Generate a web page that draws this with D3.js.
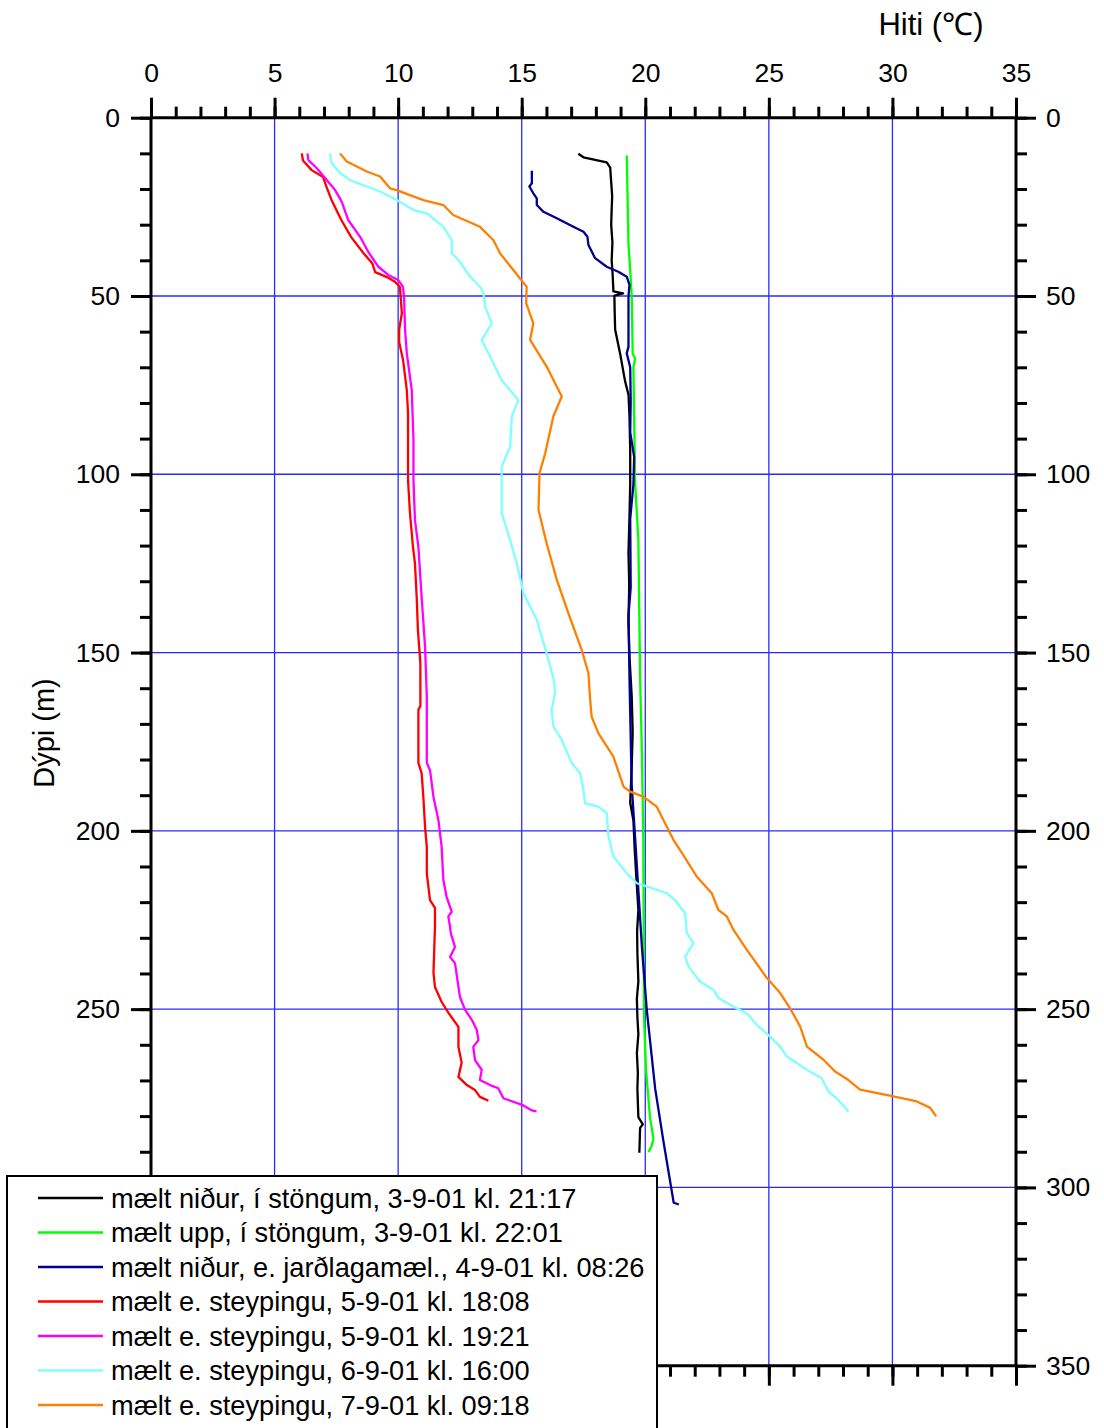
<!DOCTYPE html>
<html>
<head>
<meta charset="utf-8">
<script src="https://cdn.jsdelivr.net/npm/d3@7"></script>
<style>
  html, body { margin: 0; padding: 0; background: #fff; }
  svg { display: block; font-family: "Liberation Sans", Arial, Helvetica, sans-serif; }
</style>
</head>
<body>
<svg id="chart" width="1104" height="1428"></svg>
<script>
// ---- Data: [depth (m), temperature (°C)] ----
const seriesNames = [
  "mælt niður, í stöngum, 3-9-01 kl. 21:17",
  "mælt upp, í stöngum, 3-9-01 kl. 22:01",
  "mælt niður, e. jarðlagamæl., 4-9-01 kl. 08:26",
  "mælt e. steypingu, 5-9-01 kl. 18:08",
  "mælt e. steypingu, 5-9-01 kl. 19:21",
  "mælt e. steypingu, 6-9-01 kl. 16:00",
  "mælt e. steypingu, 7-9-01 kl. 09:18"
];
const seriesColors = ["#000000", "#00ff00", "#000090", "#ff0000", "#ff00ff", "#80ffff", "#ff8000"];

const black = [[10.1,17.29],[11.1,17.5],[12.5,18.44],[14,18.58],[18,18.62],[22,18.66],[25.6,18.64],[30,18.62],[35,18.67],[40,18.64],[44,18.68],[48.7,18.71],[49.3,19.1],[49.9,18.75],[54,18.76],[59.4,18.78],[66.1,18.98],[73.8,19.18],[77.7,19.32],[83.5,19.36],[93.2,19.39],[102.8,19.39],[112,19.36],[122.1,19.32],[131,19.35],[141.4,19.32],[151.1,19.36],[162.1,19.45],[172.1,19.49],[182.1,19.45],[192.1,19.39],[197.1,19.52],[205,19.57],[212.2,19.63],[222.2,19.72],[228,19.67],[234.2,19.68],[242.2,19.72],[247,19.66],[252.2,19.68],[257,19.72],[262.3,19.66],[268,19.7],[272.3,19.68],[280.3,19.72],[282.3,19.9],[283.3,19.79],[290.3,19.76]];
const green = [[10.6,19.25],[35.2,19.32],[49.7,19.45],[66.1,19.49],[67.6,19.59],[70,19.52],[102.8,19.59],[118.3,19.72],[156.9,19.79],[177.1,19.86],[202.2,19.92],[252.2,19.95],[267.2,20.03],[280.3,20.19],[286.3,20.33],[288.3,20.26],[290.1,20.13]];
const blue = [[14.9,15.41],[18.4,15.41],[19.3,15.31],[21.2,15.47],[22.6,15.61],[24.5,15.61],[26.4,15.88],[28.2,16.42],[30.6,17.09],[32,17.5],[33.4,17.66],[35.7,17.7],[39.4,17.97],[41.8,18.44],[43.2,18.91],[44.6,19.25],[46.9,19.36],[50.2,19.32],[64.2,19.32],[66.1,19.25],[70,19.39],[79.6,19.41],[88.3,19.39],[95.1,19.55],[102.8,19.52],[112.5,19.39],[131.8,19.41],[139.5,19.32],[156.9,19.36],[187.1,19.45],[202.2,19.59],[232.2,19.86],[250.2,20.06],[272.3,20.4],[287.3,20.74],[304.3,21.15],[304.8,21.36]];
const red = [[10,6.1],[12,6.15],[14.7,6.5],[16.6,6.96],[19.4,7.1],[23,7.3],[28.7,7.7],[33.5,8.1],[38,8.6],[40.8,8.95],[43.3,9.07],[44.7,9.55],[46,9.87],[47.5,10.07],[50.2,10.1],[54.8,10.15],[59.5,10.04],[62.9,10.04],[68,10.2],[76.4,10.35],[82.9,10.4],[92.3,10.4],[101.6,10.4],[111,10.48],[120.4,10.6],[125,10.68],[134.4,10.75],[143.7,10.8],[153,10.9],[165,10.9],[166,10.82],[181,10.82],[183.8,10.95],[190.5,11.02],[199,11.09],[204.5,11.16],[212,11.16],[219.4,11.29],[221.6,11.49],[226.9,11.49],[239.8,11.43],[243.8,11.49],[248,11.76],[251,12.03],[255,12.44],[260.6,12.44],[265,12.57],[269,12.44],[271.3,12.78],[272.7,13.11],[274.6,13.31],[275.7,13.65]];
const magenta = [[10,6.33],[11.9,6.37],[14.1,6.7],[17.5,7.11],[20.3,7.45],[23.6,7.72],[28.7,7.98],[33.4,8.46],[37.6,8.79],[41.8,9.2],[44.1,9.6],[45.5,10.0],[47.4,10.19],[50.2,10.24],[59.5,10.28],[66,10.35],[76.4,10.55],[90.4,10.62],[101.6,10.62],[112.8,10.68],[120.4,10.82],[134.4,10.95],[148.4,11.09],[162.4,11.16],[181,11.16],[183,11.29],[190.5,11.43],[197,11.63],[204.5,11.76],[213.8,11.83],[218.5,11.96],[222.7,12.17],[224,12.03],[226.9,12.1],[228.7,12.13],[232.6,12.3],[235.4,12.1],[237.1,12.3],[246.6,12.5],[250.2,12.71],[253,12.98],[255.8,13.18],[258.7,13.25],[260.6,13.04],[264.3,13.11],[267,13.38],[269.9,13.31],[271.3,13.72],[272.2,14.05],[275,14.26],[277,15.07],[278.4,15.41],[278.7,15.6]];
const cyan = [[10,7.24],[12.7,7.31],[15.5,7.65],[17.5,8.05],[19.3,8.73],[20.7,9.27],[23.1,9.94],[25.9,10.62],[26.8,11.16],[30.6,11.83],[34.3,12.17],[38,12.17],[40.4,12.5],[44.6,12.91],[47.4,13.31],[49.2,13.45],[53,13.52],[57.7,13.79],[62.3,13.38],[67,13.72],[73.6,14.19],[76.4,14.53],[79.2,14.86],[83.8,14.6],[92.3,14.53],[97.9,14.19],[110.9,14.19],[118.4,14.53],[125,14.8],[133.4,15.07],[140.9,15.61],[150.2,16.01],[157.7,16.3],[161.4,16.35],[166.1,16.21],[170.8,16.28],[174.5,16.62],[181,17.02],[183.8,17.36],[188.5,17.5],[192.3,17.56],[193.2,18.1],[195,18.44],[201.6,18.51],[207.2,18.71],[211.9,19.25],[214.7,19.66],[215.6,20.06],[217.5,20.87],[219.4,21.2],[223.1,21.61],[228.7,21.68],[231.5,21.95],[235.3,21.61],[238,21.75],[239.9,21.95],[242.3,22.22],[244.6,22.76],[246.9,22.96],[249.3,23.57],[251.2,24.11],[254.4,24.51],[257.7,25.05],[260.5,25.46],[263.3,25.73],[267,26.54],[269.4,27.14],[273.1,27.41],[275,27.75],[278.7,28.22]];
const orange = [[10,7.65],[12.3,7.92],[15.1,8.73],[16.5,9.27],[19.8,9.67],[20.3,9.94],[23.1,11.02],[24.5,11.83],[27.3,12.23],[30.6,13.31],[34.3,13.85],[38,14.12],[42.7,14.66],[47.4,15.2],[52,15.18],[57.7,15.47],[62.3,15.34],[69.8,16.01],[78.2,16.62],[83.8,16.28],[94.1,15.95],[99.7,15.72],[110,15.68],[119.4,16.01],[129.6,16.42],[139,16.89],[149.3,17.43],[155.8,17.7],[163.3,17.77],[168,17.83],[172.6,18.1],[179.2,18.71],[187.6,19.12],[189,19.38],[190.4,19.92],[193.2,20.46],[197.9,20.8],[202.5,21.14],[206.8,21.54],[212.8,22.08],[217.5,22.69],[222.2,22.96],[224,23.3],[227.8,23.57],[233.4,24.11],[241.3,24.92],[245.5,25.46],[249.8,25.86],[254.9,26.27],[260.5,26.54],[264.2,27.21],[267.5,27.68],[269.9,28.22],[272.6,28.69],[274.5,30.04],[275.9,30.99],[277.7,31.53],[280.1,31.77]];

const seriesData = [black, green, blue, red, magenta, cyan, orange];

const tempTicks = [0, 5, 10, 15, 20, 25, 30, 35];
const depthTicks = [0, 50, 100, 150, 200, 250, 300, 350];
const xTitle = "Hiti (℃)";
const yTitle = "Dýpi (m)";

// ---- Layout ----
const pL = 151, pR = 1016, pT = 117.7, pB = 1365.7;
const svg = d3.select("#chart");
const x = d3.scaleLinear().domain([0, 35]).range([pL, pR]);
const y = d3.scaleLinear().domain([0, 350]).range([pT, pB]);

// grid
const grid = svg.append("g").attr("stroke", "#2a2aff").attr("stroke-width", 1.3);
grid.selectAll("line.gx").data(tempTicks.slice(1, -1)).join("line")
  .attr("x1", d => x(d)).attr("x2", d => x(d)).attr("y1", pT).attr("y2", pB);
grid.selectAll("line.gy").data(depthTicks.slice(1, -1)).join("line")
  .attr("y1", d => y(d)).attr("y2", d => y(d)).attr("x1", pL).attr("x2", pR);

// axes
const axW = 3;
const minorT = d3.range(0, 36, 1);
const minorD = d3.range(0, 351, 10);
const tick = (g, axis) => g.call(axis).call(s => s.select(".domain").remove())
  .call(s => s.selectAll("line").attr("stroke", "#000").attr("stroke-width", axW));
const styleText = g => g.selectAll("text").attr("font-size", 26.5).attr("fill", "#000")
  .attr("font-family", "Liberation Sans, Arial, sans-serif");

svg.append("g").attr("transform", `translate(0,${pT})`)
  .call(g => tick(g, d3.axisTop(x).tickValues(minorT).tickSize(11).tickFormat("")));
svg.append("g").attr("transform", `translate(0,${pT})`)
  .call(g => tick(g, d3.axisTop(x).tickValues(tempTicks).tickSize(20).tickPadding(16).tickFormat(d3.format("d"))))
  .call(styleText);
svg.append("g").attr("transform", `translate(0,${pB})`)
  .call(g => tick(g, d3.axisBottom(x).tickValues(minorT).tickSize(11).tickFormat("")));
svg.append("g").attr("transform", `translate(0,${pB})`)
  .call(g => tick(g, d3.axisBottom(x).tickValues(tempTicks).tickSize(20).tickFormat("")));

svg.append("g").attr("transform", `translate(${pL},0)`)
  .call(g => tick(g, d3.axisLeft(y).tickValues(minorD).tickSize(11).tickFormat("")));
// left labels below 250 m are hidden behind the legend in the original
svg.append("g").attr("transform", `translate(${pL},0)`)
  .call(g => tick(g, d3.axisLeft(y).tickValues(depthTicks).tickSize(20).tickPadding(11)
    .tickFormat(d => d <= 250 ? d3.format("d")(d) : "")))
  .call(styleText);
svg.append("g").attr("transform", `translate(${pR},0)`)
  .call(g => tick(g, d3.axisRight(y).tickValues(minorD).tickSize(11).tickFormat("")));
svg.append("g").attr("transform", `translate(${pR},0)`)
  .call(g => tick(g, d3.axisRight(y).tickValues(depthTicks).tickSize(20).tickPadding(10).tickFormat(d3.format("d"))))
  .call(styleText);

// frame lines
const frame = svg.append("g").attr("stroke", "#000").attr("stroke-width", axW);
frame.append("line").attr("x1", pL).attr("x2", pR).attr("y1", pT).attr("y2", pT);
frame.append("line").attr("x1", pL).attr("x2", pR).attr("y1", pB).attr("y2", pB);
frame.append("line").attr("x1", pL).attr("x2", pL).attr("y1", pT).attr("y2", pB);
frame.append("line").attr("x1", pR).attr("x2", pR).attr("y1", pT).attr("y2", pB);

// series
const line = d3.line().x(d => x(d[1])).y(d => y(d[0]));
svg.append("g").selectAll("path").data(seriesData).join("path")
  .attr("d", line)
  .attr("fill", "none")
  .attr("stroke", (d, i) => seriesColors[i])
  .attr("stroke-width", 2.3)
  .attr("stroke-linejoin", "round");

// titles
svg.append("text").attr("x", 931).attr("y", 35).attr("text-anchor", "middle")
  .attr("font-size", 31).text(xTitle);
svg.append("text").attr("transform", "translate(54,733) rotate(-90)").attr("text-anchor", "middle")
  .attr("font-size", 29).text(yTitle);

// legend
const lg = svg.append("g");
lg.append("rect").attr("x", 7).attr("y", 1176).attr("width", 650).attr("height", 270)
  .attr("fill", "#fff").attr("stroke", "#000").attr("stroke-width", 2);
const rowY = i => 1198 + i * 34.5;
lg.selectAll("line.k").data(seriesNames).join("line")
  .attr("x1", 38).attr("x2", 103)
  .attr("y1", (d, i) => rowY(i)).attr("y2", (d, i) => rowY(i))
  .attr("stroke", (d, i) => seriesColors[i]).attr("stroke-width", 2.3);
lg.selectAll("text").data(seriesNames).join("text")
  .attr("x", 111).attr("y", (d, i) => rowY(i) + 9.5)
  .attr("font-size", 27.2).attr("fill", "#000").text(d => d);
</script>
</body>
</html>
